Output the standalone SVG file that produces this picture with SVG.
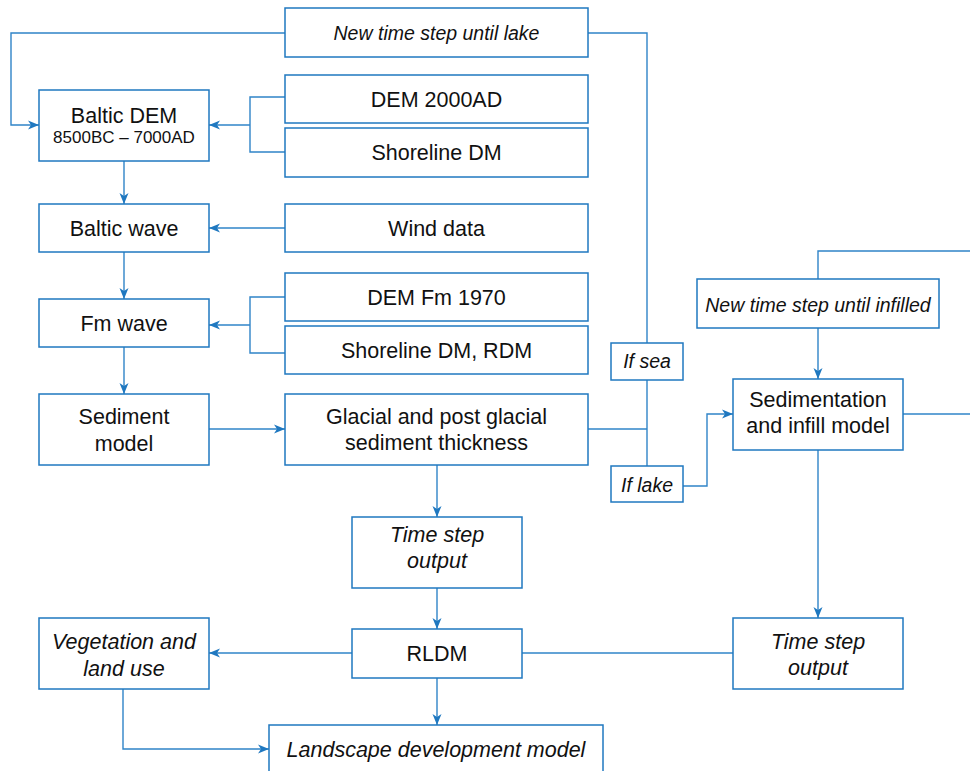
<svg xmlns="http://www.w3.org/2000/svg" width="970" height="771" viewBox="0 0 970 771">
<defs>
<marker id="ah" markerWidth="12" markerHeight="10" refX="11" refY="5" orient="auto" markerUnits="userSpaceOnUse">
<path d="M0,0.5 L11,5 L0,9.5 L3,5 z" fill="#1f78c0"/>
</marker>
<style>
.box{fill:#fff;stroke:#1f78c0;stroke-width:1.5}
.ln{fill:none;stroke:#2f84c8;stroke-width:1.4}
.ar{marker-end:url(#ah)}
text{font-family:"Liberation Sans",Arial,sans-serif;fill:#111;text-anchor:middle}
.t{font-size:21.5px}
.s{font-size:17px}
.i{font-size:21.5px;font-style:italic}
.ii{font-size:19.5px;font-style:italic}
</style>
</defs>
<rect width="970" height="771" fill="#fff"/>
<g id="connectors">
<polyline class="ln ar" points="285,33 11,33 11,125 39,125"/>
<polyline class="ln" points="285,97 250,97 250,152 285,152"/>
<line class="ln ar" x1="250" y1="125" x2="209" y2="125"/>
<line class="ln ar" x1="124" y1="161" x2="124" y2="204"/>
<line class="ln ar" x1="285" y1="228" x2="209" y2="228"/>
<line class="ln ar" x1="124" y1="252" x2="124" y2="299"/>
<polyline class="ln" points="285,297 250,297 250,353 285,353"/>
<line class="ln ar" x1="250" y1="325" x2="209" y2="325"/>
<line class="ln ar" x1="124" y1="347" x2="124" y2="394"/>
<line class="ln ar" x1="209" y1="429" x2="285" y2="429"/>
<line class="ln" x1="588" y1="429" x2="647" y2="429"/>
<polyline class="ln" points="588,33 647,33 647,343"/>
<line class="ln" x1="647" y1="380" x2="647" y2="466"/>
<polyline class="ln ar" points="683,486 707,486 707,414 733,414"/>
<polyline class="ln" points="818,279 818,251 972,251"/>
<line class="ln ar" x1="818" y1="328" x2="818" y2="379"/>
<line class="ln" x1="903" y1="414" x2="972" y2="414"/>
<line class="ln ar" x1="818" y1="450" x2="818" y2="618"/>
<line class="ln ar" x1="437" y1="465" x2="437" y2="517"/>
<line class="ln ar" x1="437" y1="588" x2="437" y2="629"/>
<line class="ln ar" x1="352" y1="653" x2="209" y2="653"/>
<line class="ln" x1="522" y1="653" x2="733" y2="653"/>
<line class="ln ar" x1="437" y1="678" x2="437" y2="725"/>
<polyline class="ln ar" points="123,689 123,749 269,749"/>
</g>
<g id="new-time-step-lake"><rect class="box" x="285" y="8" width="303" height="49"/><text class="ii" x="436.5" y="40">New time step until lake</text></g>
<g id="baltic-dem"><rect class="box" x="39" y="90" width="170" height="71"/><text class="t" x="124" y="123">Baltic DEM</text><text class="s" x="124" y="143">8500BC – 7000AD</text></g>
<g id="dem-2000ad"><rect class="box" x="285" y="75" width="303" height="48"/><text class="t" x="436.5" y="107">DEM 2000AD</text></g>
<g id="shoreline-dm"><rect class="box" x="285" y="128" width="303" height="49"/><text class="t" x="436.5" y="160">Shoreline DM</text></g>
<g id="baltic-wave"><rect class="box" x="39" y="204" width="170" height="48"/><text class="t" x="124" y="236">Baltic wave</text></g>
<g id="wind-data"><rect class="box" x="285" y="204" width="303" height="48"/><text class="t" x="436.5" y="236">Wind data</text></g>
<g id="fm-wave"><rect class="box" x="39" y="299" width="170" height="48"/><text class="t" x="124" y="331">Fm wave</text></g>
<g id="dem-fm-1970"><rect class="box" x="285" y="273" width="303" height="48"/><text class="t" x="436.5" y="305">DEM Fm 1970</text></g>
<g id="shoreline-dm-rdm"><rect class="box" x="285" y="326" width="303" height="48"/><text class="t" x="436.5" y="358">Shoreline DM, RDM</text></g>
<g id="sediment-model"><rect class="box" x="39" y="394" width="170" height="71"/><text class="t" x="124" y="424">Sediment</text><text class="t" x="124" y="451">model</text></g>
<g id="glacial"><rect class="box" x="285" y="394" width="303" height="71"/><text class="t" x="436.5" y="424">Glacial and post glacial</text><text class="t" x="436.5" y="450">sediment thickness</text></g>
<g id="if-sea"><rect class="box" x="611" y="343" width="72" height="37"/><text class="ii" x="647" y="368">If sea</text></g>
<g id="if-lake"><rect class="box" x="611" y="466" width="72" height="36"/><text class="ii" x="647" y="492">If lake</text></g>
<g id="new-time-step-infilled"><rect class="box" x="697" y="279" width="242" height="49"/><text class="ii" x="818" y="312">New time step until infilled</text></g>
<g id="sedimentation"><rect class="box" x="733" y="379" width="170" height="71"/><text class="t" x="818" y="407">Sedimentation</text><text class="t" x="818" y="433">and infill model</text></g>
<g id="time-step-output-mid"><rect class="box" x="352" y="517" width="170" height="71"/><text class="i" x="437" y="542">Time step</text><text class="i" x="437" y="568">output</text></g>
<g id="rldm"><rect class="box" x="352" y="629" width="170" height="49"/><text class="t" x="437" y="661">RLDM</text></g>
<g id="vegetation"><rect class="box" x="39" y="618" width="170" height="71"/><text class="i" x="124" y="649">Vegetation and</text><text class="i" x="124" y="676">land use</text></g>
<g id="time-step-output-right"><rect class="box" x="733" y="618" width="170" height="71"/><text class="i" x="818" y="649">Time step</text><text class="i" x="818" y="675">output</text></g>
<g id="landscape"><rect class="box" x="269" y="725" width="334" height="80"/><text class="i" x="436" y="757">Landscape development model</text></g>
</svg>
